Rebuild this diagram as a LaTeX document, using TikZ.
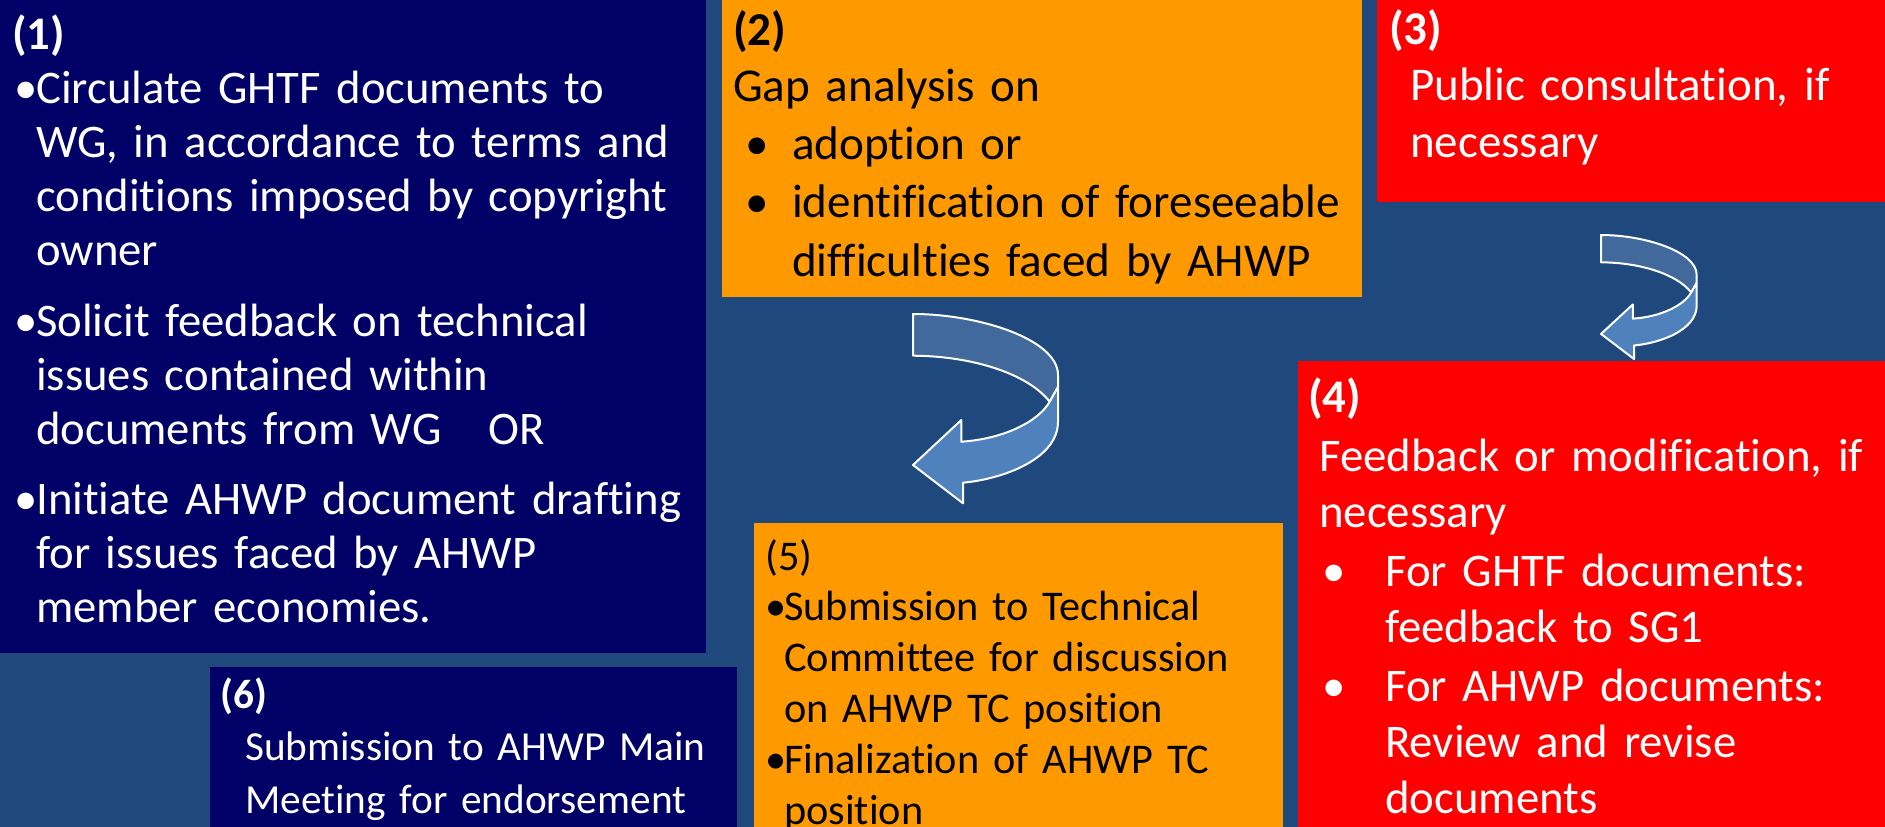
\documentclass[tikz,border=0pt]{standalone}
\usepackage{fontspec}
\setmainfont{Carlito}[Ligatures=NoCommon]
\definecolor{bgblue}{RGB}{31,73,125}
\definecolor{navy}{RGB}{0,0,102}
\definecolor{orng}{RGB}{255,153,0}
\definecolor{rd}{RGB}{255,0,0}
\definecolor{arrback}{RGB}{65,105,155}
\definecolor{arrfront}{RGB}{79,129,189}
\newcommand{\bul}[1]{\makebox[#1][l]{•}}
\newcommand{\ind}[1]{\hspace*{#1pt}}
\begin{document}
\begin{tikzpicture}[x=1pt,y=-1pt,
  panel/.style={anchor=north west,inner sep=0pt,outer sep=0pt,draw=none},
  txt/.style={anchor=base west,inner sep=0pt,align=left,text width=700pt},
  uturn/.pic={
    \path[fill=arrback,draw=white,line width=2pt,line join=round]
      (0,0) .. controls (65,0) and (145,25) .. (145,61) -- (145,73) -- (136.7,87.7)
      .. controls (115,60) and (60,42) .. (0,41.7) -- cycle;
    \path[fill=arrfront,draw=white,line width=2pt,line join=round]
      (136.7,87.7) -- (145,73) -- (145,107.7)
      .. controls (145,145) and (90,165) .. (50,168.7) -- (50,189.3) -- (0,151)
      -- (48.3,106) -- (48.3,127.7)
      .. controls (90,125) and (125,108) .. (136.7,87.7) -- cycle;
  }]
\useasboundingbox (0,0) rectangle (1885,827);
\path[clip] (0,0) rectangle (1885,827);
\fill[bgblue] (0,0) rectangle (1885,827);

% panels
\node[panel,fill=navy,minimum width=706pt,minimum height=653pt] (b1) at (0,0) {};
\node[panel,fill=orng,minimum width=640pt,minimum height=297pt] (b2) at (722,0) {};
\node[panel,fill=rd,minimum width=508pt,minimum height=202pt] (b3) at (1377,0) {};
\node[panel,fill=rd,minimum width=587pt,minimum height=466pt] (b4) at (1298,361) {};
\node[panel,fill=orng,minimum width=529pt,minimum height=304pt] (b5) at (754,523) {};
\node[panel,fill=navy,minimum width=527pt,minimum height=160pt] (b6) at (210,667) {};

% arrows
\pic (a1) at (913,314) {uturn};
\pic[xscale=0.66,yscale=0.655] (a2) at (1601,235) {uturn};

% texts
\node[txt,text=white,font=\fontsize{46.7}{54}\selectfont] (t1) at (12,49) {%
\textbf{(1)}\\
\ind{2}\bul{22pt}Circulate GHTF documents to\\
\ind{24}WG, in accordance to terms and\\
\ind{24}conditions imposed by copyright\\
\ind{24}owner\\[17pt]
\ind{2}\bul{22pt}Solicit feedback on technical\\
\ind{24}issues contained within\\
\ind{24}documents from WG\ \ \ OR\\[16pt]
\ind{2}\bul{22pt}Initiate AHWP document drafting\\
\ind{24}for issues faced by AHWP\\
\ind{24}member economies.};

\node[txt,text=black,font=\fontsize{47.1}{58.3}\selectfont] (t2) at (733,45) {%
\textbf{(2)}\\[-2pt]
Gap analysis on\\
\ind{12}\bul{47pt}adoption or\\
\ind{12}\bul{47pt}identification of foreseeable\\
\ind{59}difficulties faced by AHWP};

\node[txt,text=white,font=\fontsize{47}{56.5}\selectfont] (t3) at (1389,44) {%
\textbf{(3)}\\
\ind{21}Public consultation, if\\
\ind{21}necessary};

\node[txt,text=white,font=\fontsize{46.8}{56}\selectfont] (t4) at (1308,412) {%
\textbf{(4)}\\[3pt]
\ind{11}Feedback or modification, if\\
\ind{11}necessary\\[3pt]
\ind{14}\bul{63pt}For GHTF documents:\\
\ind{77}feedback to SG1\\[3pt]
\ind{14}\bul{63pt}For AHWP documents:\\
\ind{77}Review and revise\\
\ind{77}documents};

\node[txt,text=black,font=\fontsize{42.3}{50.8}\selectfont] (t5) at (765,570) {%
(5)\\
\ind{0}\bul{19pt}Submission to Technical\\
\ind{19}Committee for discussion\\
\ind{19}on AHWP TC position\\
\ind{0}\bul{19pt}Finalization of AHWP TC\\
\ind{19}position};

\node[txt,text=white,font=\fontsize{41.3}{52.5}\selectfont] (t6) at (220,708) {%
\textbf{(6)}\\
\ind{25}Submission to AHWP Main\\
\ind{25}Meeting for endorsement};
\end{tikzpicture}
\end{document}
